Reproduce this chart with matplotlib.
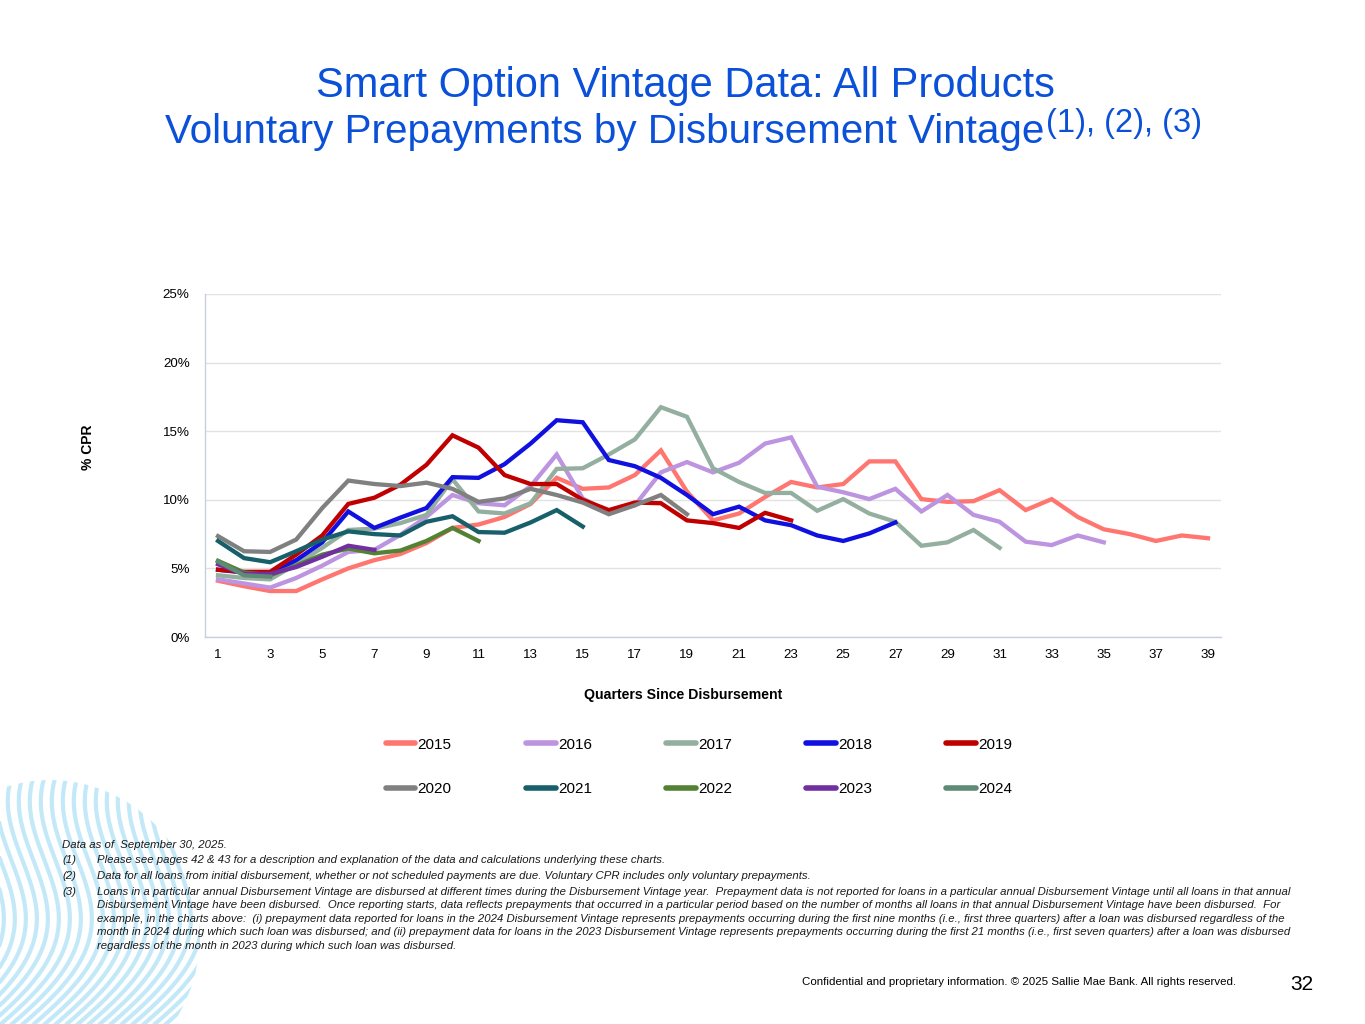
import numpy as np
import matplotlib
matplotlib.use('Agg')
import matplotlib.pyplot as plt
from matplotlib.patches import Ellipse

plt.rcParams['font.family'] = ['Liberation Sans', 'DejaVu Sans']

# voluntary CPR (%) by quarter since disbursement, per vintage
cpr_2015 = [4.1, 3.7, 3.35, 3.35, 4.2, 5.0, 5.6, 6.05, 6.85, 7.95, 8.2, 8.75, 9.7, 11.6, 10.8, 10.9,
            11.8, 13.6, 10.6, 8.5, 9.0, 10.2, 11.3, 10.9, 11.15, 12.8, 12.8, 10.05, 9.85, 9.9, 10.7,
            9.25, 10.05, 8.75, 7.85, 7.5, 7.0, 7.4, 7.2]
cpr_2016 = [4.2, 3.9, 3.6, 4.3, 5.2, 6.2, 6.35, 7.45, 8.75, 10.35, 9.75, 9.6, 11.0, 13.3, 10.1, 9.1,
            9.6, 12.0, 12.75, 12.0, 12.7, 14.1, 14.55, 10.95, 10.55, 10.05, 10.8, 9.15, 10.35, 8.9,
            8.4, 6.95, 6.7, 7.4, 6.9]
cpr_2017 = [4.5, 4.3, 4.2, 5.3, 6.5, 7.8, 7.9, 8.3, 8.9, 11.5, 9.15, 9.0, 9.75, 12.25, 12.3, 13.3,
            14.4, 16.75, 16.05, 12.3, 11.3, 10.5, 10.5, 9.2, 10.05, 9.0, 8.4, 6.65, 6.9, 7.8, 6.5]
cpr_2018 = [4.9, 4.7, 4.65, 5.6, 6.9, 9.15, 7.95, 8.7, 9.4, 11.65, 11.6, 12.6, 14.1, 15.8, 15.65,
            12.9, 12.45, 11.6, 10.35, 8.95, 9.5, 8.5, 8.15, 7.4, 7.0, 7.55, 8.35]
cpr_2019 = [4.9, 4.75, 4.75, 6.0, 7.4, 9.7, 10.15, 11.1, 12.55, 14.7, 13.8, 11.8, 11.15, 11.15,
            10.0, 9.25, 9.8, 9.75, 8.5, 8.3, 7.95, 9.05, 8.5]
cpr_2020 = [7.35, 6.25, 6.2, 7.1, 9.4, 11.4, 11.15, 11.0, 11.25, 10.8, 9.85, 10.1, 10.8, 10.35,
            9.8, 8.95, 9.6, 10.35, 8.95]
cpr_2021 = [7.0, 5.75, 5.45, 6.25, 7.1, 7.7, 7.5, 7.4, 8.4, 8.8, 7.65, 7.6, 8.35, 9.25, 8.05]
cpr_2022 = [5.55, 4.7, 4.5, 5.2, 6.0, 6.45, 6.1, 6.3, 7.0, 7.95, 7.0]
cpr_2023 = [5.3, 4.6, 4.6, 5.1, 5.85, 6.65, 6.35]
cpr_2024 = [5.5, 4.5, 4.4]

vintages = ['2015', '2016', '2017', '2018', '2019', '2020', '2021', '2022', '2023', '2024']
series = [cpr_2015, cpr_2016, cpr_2017, cpr_2018, cpr_2019,
          cpr_2020, cpr_2021, cpr_2022, cpr_2023, cpr_2024]
colors = ['#FF7670', '#BC94E0', '#94AF9F', '#1010E0', '#C00000',
          '#808080', '#17606A', '#548235', '#7030A0', '#5F8A76']

W, H = 1365, 1024
fig = plt.figure(figsize=(W / 100, H / 100), dpi=100)

# decorative wave stripes, bottom left
bg = fig.add_axes([0, 0, 1, 1], zorder=-5)
bg.set_xlim(0, W)
bg.set_ylim(H, 0)
bg.axis('off')
clip = Ellipse((50, 935), 300, 310, transform=bg.transData, facecolor='none', edgecolor='none')
bg.add_patch(clip)
t = np.linspace(0, 1, 200)
for k in range(30):
    x0 = -150 + k * 11
    xs = x0 + 110 * t + 45 * np.sin(np.pi * t * 1.5)
    ys = 1040 - 270 * t
    ln, = bg.plot(xs, ys, color='#C3E9F8', lw=3.0, solid_capstyle='butt')
    ln.set_clip_path(clip)

# main chart
ax = fig.add_axes([205 / W, 1 - 637 / H, (1221 - 205) / W, (637 - 294) / H])
for name, vals, col in zip(vintages, series, colors):
    q = np.arange(1, len(vals) + 1)
    ax.plot(q, vals, color=col, lw=3.1, label=name, solid_joinstyle='miter')

ax.set_xlim(0.5, 39.5)
ax.set_ylim(0, 25)
ax.set_xticks(range(1, 40, 2))
ax.set_yticks(range(0, 26, 5))
ax.set_yticklabels([f'{v}%' for v in range(0, 26, 5)])
ax.tick_params(axis='both', length=0, labelsize=9.6, colors='#000000')
ax.tick_params(axis='x', pad=9)
ax.tick_params(axis='y', pad=11)
ax.grid(axis='y', color='#E2E2E2', lw=1)
ax.set_axisbelow(True)
for s in ['top', 'right']:
    ax.spines[s].set_visible(False)
for s in ['left', 'bottom']:
    ax.spines[s].set_color('#C8D0E0')
    ax.spines[s].set_linewidth(1)

fig.text(88 / W, 1 - 447 / H, '% CPR', rotation=90, fontsize=10, fontweight='bold',
         ha='center', va='center')
fig.text(683 / W, 1 - 695 / H, 'Quarters Since Disbursement', fontsize=10.2, fontweight='bold',
         ha='center', va='center')

# legend: two rows, filled row-wise
handles, labels = ax.get_legend_handles_labels()
order = [0, 5, 1, 6, 2, 7, 3, 8, 4, 9]
leg = fig.legend([handles[i] for i in order], [labels[i] for i in order], ncol=5,
                 loc='center', bbox_to_anchor=(699 / W, 1 - 767 / H), frameon=False,
                 fontsize=11, handlelength=1.95, handletextpad=0.15, columnspacing=4.85,
                 labelspacing=2.0)
for line in leg.get_lines():
    line.set_linewidth(4)
    line.set_solid_capstyle('round')

# title
title_col = '#0A50D8'
fig.text(685 / W, 1 - 97 / H, 'Smart Option Vintage Data: All Products', fontsize=30,
         color=title_col, ha='center', va='baseline')
t2 = fig.text(165 / W, 1 - 143 / H, 'Voluntary Prepayments by Disbursement Vintage', fontsize=29.1,
              color=title_col, ha='left', va='baseline')
fig.canvas.draw()
x_end = t2.get_window_extent().x1
fig.text((x_end + 2) / W, 1 - 132 / H, '(1), (2), (3)', fontsize=23.5, color=title_col,
         ha='left', va='baseline')

# footnotes
fn = dict(fontsize=8.2, style='italic', va='center', ha='left', color='#1A1A1A')
fig.text(62 / W, 1 - 845 / H, 'Data as of  September 30, 2025.', **fn)
notes = [
    ('(1)', 860, ['Please see pages 42 & 43 for a description and explanation of the data and '
                  'calculations underlying these charts.']),
    ('(2)', 876, ['Data for all loans from initial disbursement, whether or not scheduled payments '
                  'are due. Voluntary CPR includes only voluntary prepayments.']),
    ('(3)', 892, ['Loans in a particular annual Disbursement Vintage are disbursed at different times '
                  'during the Disbursement Vintage year.  Prepayment data is not reported for loans in '
                  'a particular annual Disbursement Vintage until all loans in that annual',
                  'Disbursement Vintage have been disbursed.  Once reporting starts, data reflects '
                  'prepayments that occurred in a particular period based on the number of months all '
                  'loans in that annual Disbursement Vintage have been disbursed.  For',
                  'example, in the charts above:  (i) prepayment data reported for loans in the 2024 '
                  'Disbursement Vintage represents prepayments occurring during the first nine months '
                  '(i.e., first three quarters) after a loan was disbursed regardless of the',
                  'month in 2024 during which such loan was disbursed; and (ii) prepayment data for '
                  'loans in the 2023 Disbursement Vintage represents prepayments occurring during the '
                  'first 21 months (i.e., first seven quarters) after a loan was disbursed',
                  'regardless of the month in 2023 during which such loan was disbursed.']),
]
for num, y0, lines in notes:
    fig.text(62 / W, 1 - y0 / H, num, **fn)
    for i, txt in enumerate(lines):
        fig.text(97 / W, 1 - (y0 + i * 13.4) / H, txt, **fn)

fig.text(1236 / W, 1 - 982 / H,
         'Confidential and proprietary information. \u00a9 2025 Sallie Mae Bank. All rights reserved.',
         fontsize=8.25, ha='right', va='center')
fig.text(1302 / W, 1 - 984 / H, '32', fontsize=15, ha='center', va='center')

fig.savefig('out.png', dpi=100, facecolor='white')
